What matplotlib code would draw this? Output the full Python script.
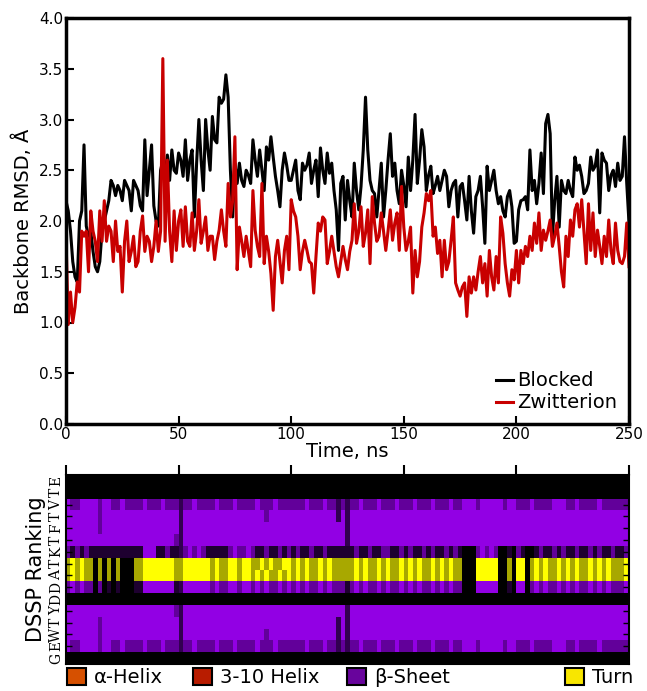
import numpy as np
import matplotlib
matplotlib.use("Agg")
import matplotlib.pyplot as plt
from matplotlib.colors import to_rgb
from matplotlib.patches import Patch

# ---------------------------------------------------------------
# RMSD traces (1 ns sampling)
# ---------------------------------------------------------------
time_ns = np.arange(0, 251)

rmsd_blocked = [
    2.20, 2.10, 1.90, 1.60, 1.45, 1.40, 2.00, 2.10, 2.75, 1.95,
    1.85, 1.90, 1.70, 1.55, 1.50, 1.60, 1.90, 2.00, 2.10, 2.20,
    2.40, 2.35, 2.25, 2.35, 2.30, 2.20, 2.40, 2.35, 2.30, 2.10,
    2.40, 2.35, 2.30, 2.15, 2.10, 2.80, 2.25, 2.50, 2.75, 2.15,
    2.00, 1.95, 2.50, 2.60, 2.45, 2.65, 2.40, 2.70, 2.50, 2.47,
    2.67, 2.60, 2.44, 2.80, 2.40, 2.60, 2.70, 2.04, 2.57, 3.00,
    2.60, 2.30, 3.00, 2.70, 2.50, 3.03, 2.80, 2.77, 3.22, 3.16,
    3.20, 3.44, 3.22, 2.50, 2.04, 2.57, 2.37, 2.57, 2.40, 2.34,
    2.50, 2.45, 2.37, 2.80, 2.60, 2.44, 2.70, 2.50, 2.30, 2.73,
    2.60, 2.83, 2.63, 2.44, 2.30, 2.14, 2.50, 2.67, 2.55, 2.40,
    2.40, 2.50, 2.60, 2.30, 2.21, 2.57, 2.50, 2.55, 2.67, 2.37,
    2.50, 2.60, 2.24, 2.72, 2.50, 2.37, 2.67, 2.47, 2.57, 2.30,
    2.11, 1.71, 2.37, 2.44, 2.01, 2.40, 2.20, 2.04, 2.57, 2.30,
    2.11, 2.34, 2.70, 3.22, 2.70, 2.40, 2.30, 2.27, 2.04, 2.30,
    2.57, 2.04, 2.30, 2.60, 2.86, 2.44, 2.57, 2.30, 2.17, 2.50,
    2.35, 2.14, 2.63, 2.30, 2.60, 3.05, 2.37, 2.60, 2.90, 2.73,
    2.30, 2.45, 2.54, 2.27, 2.35, 2.44, 2.30, 2.40, 2.50, 2.44,
    2.14, 2.30, 2.37, 2.40, 2.04, 2.34, 2.37, 2.20, 2.01, 2.44,
    2.10, 1.88, 2.24, 2.30, 2.44, 2.14, 1.78, 2.54, 2.30, 2.40,
    2.50, 2.30, 2.17, 2.24, 2.10, 2.04, 2.24, 2.30, 2.14, 1.78,
    1.80, 2.11, 2.20, 2.21, 2.24, 2.11, 2.70, 2.30, 2.40, 2.17,
    2.37, 2.67, 2.27, 2.96, 3.05, 2.86, 1.85, 2.20, 2.44, 1.94,
    2.40, 2.30, 2.27, 2.40, 2.30, 2.24, 2.63, 2.50, 2.55, 2.44,
    2.27, 2.30, 2.37, 2.63, 2.50, 2.54, 2.70, 2.08, 2.67, 2.60,
    2.57, 2.30, 2.45, 2.50, 2.34, 2.57, 2.40, 2.44, 2.83, 2.37,
    1.98,
]

rmsd_zwitterion = [
    1.85, 0.98, 1.30, 1.00, 1.15, 1.40, 1.30, 1.90, 1.85, 1.90,
    1.50, 2.10, 1.90, 1.80, 1.60, 2.10, 1.80, 2.20, 1.80, 1.95,
    1.90, 1.60, 2.00, 1.70, 1.75, 1.30, 1.80, 2.00, 1.60, 1.70,
    1.85, 1.55, 1.60, 1.90, 2.05, 1.70, 1.85, 1.80, 1.60, 1.75,
    2.00, 1.70, 1.90, 3.60, 1.80, 2.60, 1.90, 1.60, 2.10, 1.71,
    2.00, 2.11, 1.75, 2.14, 1.80, 1.75, 2.08, 1.71, 1.90, 2.21,
    1.78, 1.90, 2.04, 1.71, 1.85, 1.85, 1.62, 1.80, 1.91, 2.11,
    1.90, 1.75, 2.37, 2.04, 2.20, 2.83, 1.52, 1.94, 1.80, 1.65,
    1.85, 1.70, 1.55, 2.30, 1.91, 1.75, 1.65, 2.37, 1.58, 1.85,
    1.70, 1.48, 1.12, 1.65, 1.81, 1.60, 1.39, 1.71, 1.85, 1.52,
    2.21, 2.10, 2.04, 1.85, 1.52, 1.70, 1.81, 1.71, 1.60, 1.58,
    1.29, 1.65, 1.98, 1.90, 2.04, 2.01, 1.58, 1.70, 1.85, 1.70,
    1.55, 1.45, 1.60, 1.75, 1.62, 1.52, 1.70, 1.81, 2.17, 1.78,
    1.90, 2.14, 1.75, 1.88, 2.11, 1.58, 2.24, 1.98, 1.80, 1.85,
    2.08, 1.90, 1.71, 1.90, 2.11, 1.81, 1.98, 2.08, 1.71, 2.34,
    1.94, 1.71, 1.80, 1.94, 1.29, 1.71, 1.45, 1.60, 1.94, 2.08,
    2.27, 2.20, 2.30, 1.85, 1.94, 1.68, 1.81, 1.45, 1.81, 1.52,
    1.60, 1.81, 2.04, 1.39, 1.32, 1.26, 1.35, 1.39, 1.06, 1.45,
    1.29, 1.45, 1.32, 1.50, 1.65, 1.39, 1.58, 1.26, 1.71, 1.45,
    1.32, 1.65, 1.39, 2.04, 1.88, 1.58, 1.39, 1.26, 1.52, 1.42,
    1.71, 1.39, 1.71, 1.58, 1.75, 1.65, 1.85, 1.71, 1.98, 1.78,
    2.08, 1.71, 1.91, 1.81, 1.90, 2.01, 1.75, 1.85, 1.98, 1.75,
    1.50, 1.35, 1.85, 1.65, 2.01, 1.85, 2.11, 2.17, 1.94, 2.21,
    1.90, 1.58, 2.17, 1.71, 2.08, 1.65, 1.91, 1.75, 1.58, 1.85,
    1.65, 2.01, 1.71, 1.58, 1.98, 1.71, 1.60, 1.58, 1.65, 1.98,
    1.55,
]

# ---------------------------------------------------------------
# DSSP states per residue, one char per 2 ns (bottom -> top)
# C coil, E sheet, e sheet/coil flicker, x dark line, k mostly coil,
# T turn, t turn/coil flicker
# ---------------------------------------------------------------
residues = list("GEWTYDDATKTFTVTE")
frame_ns = 2.0

dssp_rows = [
    # G1
    "CCCCCCCCCCCCCCCCCCCCCCCCC" "CCCCCCCCCCCCCCCCCCCCCCCCC" "CCCCCCCCCCCCCCCCCCCCCCCCC"
    "CCCCCCCCCCCCCCCCCCCCCCCCC" "CCCCCCCCCCCCCCCCCCCCCCCCC",
    # E2
    "EeeEEEEeEEeeEeeeeEeeeEeee" "xeeEeeeeEeeeEeeeeEeeeEeee" "eeeEeeeEeexexeeEeeeEeeeEe"
    "eeEeeeEeeeEeeEEEeEEEEEeEE" "eeeEeeeeEEEeeEeeeeEeeeeee",
    # W3
    "EEEEEEEeEEEEEEEEEEEEEEEEE" "xEEEEEEEEEEEEEEEEEEeEEEEE" "EEEEEEEEEExExEEEEEEEEEEEE"
    "EEEEEEEEEEEEEEEEEEEEEEEEE" "EEEEEEEEEEEEEEEEEEEEEEEEE",
    # T4
    "EEEEEEEeEEEEEEEEEEEEEEEEE" "xEEEEEEEEEEEEEEEEEEEEEEEE" "EEEEEEEEEExExEEEEEEEEEEEE"
    "EEEEEEEEEEEEEEEEEEEEEEEEE" "EEEEEEEEEEEEEEEEEEEEEEEEE",
    # Y5
    "EEEEEEEEEEEEEEEEEEEEEEEEe" "xEEEEEEEEEEEEEEEEEEEEEEEE" "EEEEEEEEEEEExEEEEEEEEEEEE"
    "EEEEEEEEEEEEEEEEEEEEEEEEE" "EEEEEEEEEEEEEEEEEEEEEEEEE",
    # D6
    "CCCCCCCCCCCCCCCCCCCCCCCCC" "CCCCCCCCCCCCCCCCCCCCCCCCC" "CCCCCCCCCCCCCCCCCCCCCCCCC"
    "CCCCCCCCCCCCCCCCCCCCCCCCC" "CCCCCCCCCCCCCCCCCCCCCCCCC",
    # D7
    "eEeEeeCeCkCkCCCkkEEEEEEEk" "xEEEEEEeEeeEEeEEeEeEeeEeE" "eEeEeeEeEeeekeEeEeeEeEeeE"
    "eEeEeeEeEeEeeCCCEEEEECCkC" "EECeEeEeeEeEeEeeEeEeEeeeE",
    # A8
    "tTtTttCtCtCtCCCttTTTTTTTt" "tTTTTTTtTttTTtTTtTtTttTtT" "tTtTttTtTtttttTtTttTtTttT"
    "tTtTttTtTtTttCCCTTTTTCCtC" "TTCtTtTttTtTtTttTtTtTtttT",
    # T9
    "tTtTttCtCtCtCCCttTTTTTTTt" "tTTTTTTtTttTTtTTttTtTttTT" "tTtTttTtTtttttTtTttTtTttT"
    "tTtTttTtTtTttCCCTTTTTCCtC" "TTCtTtTttTtTtTttTtTtTtttT",
    # K10
    "ekekekkkkkkkkkkkkEEEkkekk" "xeEeEekkkkkeEeeEekkekkeke" "kekkekkekkkkkkekkekkeekke"
    "kekkekekkekekCCCeEeEeCCkC" "ekCCkekkekekkekkekekkekke",
    # T11
    "EEEEEEEEEEEEEEEEEEEEEEEEe" "xEEEEEEEEEEEEEEEEEEEEEEEE" "EEEEEEEEEEEExEEEEEEEEEEEE"
    "EEEEEEEEEEEEEEEEEEEEEEEEE" "EEEEEEEEEEEEEEEEEEEEEEEEE",
    # F12
    "EEEEEEEeEEEEEEEEEEEEEEEEE" "xEEEEEEEEEEEEEEEEEEEEEEEE" "EEEEEEEEEEEExEEEEEEEEEEEE"
    "EEEEEEEEEEEEEEEEEEEEEEEEE" "EEEEEEEEEEEEEEEEEEEEEEEEE",
    # T13
    "EEEEEEEeEEEEEEEEEEEEEEEEE" "xEEEEEEEEEEEEEEEEEEeEEEEE" "EEEEEEEEEExExEEEEEEEEEEEE"
    "EEEEEEEEEEEEEEEEEEEEEEEEE" "EEEEEEEEEEEEEEEEEEEEEEEEE",
    # V14
    "EeeEEEEeEEeeEeeeeEeeeEeee" "xeeEeeeeEeeeEeeeeEeeeEeee" "eeeEeeeEeexexeeEeeeEeeeEe"
    "eeEeeeEeeeEeeEEEeEEEEEeEE" "eeeEeeeeEEEeeEeeeeEeeeeee",
    # T15
    "CCCCCCCCCCCCCCCCCCCCCCCCC" "CCCCCCCCCCCCCCCCCCCCCCCCC" "CCCCCCCCCCCCCCCCCCCCCCCCC"
    "CCCCCCCCCCCCCCCCCCCCCCCCC" "CCCCCCCCCCCCCCCCCCCCCCCCC",
    # E16
    "CCCCCCCCCCCCCCCCCCCCCCCCC" "CCCCCCCCCCCCCCCCCCCCCCCCC" "CCCCCCCCCCCCCCCCCCCCCCCCC"
    "CCCCCCCCCCCCCCCCCCCCCCCCC" "CCCCCCCCCCCCCCCCCCCCCCCCC",
]

state_colors = {
    "C": "#000000",
    "E": "#9200e4",
    "e": "#62009a",
    "x": "#320050",
    "k": "#1e0030",
    "T": "#ffff00",
    "t": "#a8a800",
}

legend_labels = ["\u03b1-Helix", "3-10 Helix", "\u03b2-Sheet", "Turn"]
legend_colors = ["#d65000", "#b81c00", "#68049c", "#f8e600"]

# ---------------------------------------------------------------
fig = plt.figure(figsize=(6.47, 6.91), dpi=100)

# ===== RMSD panel =====
ax = fig.add_axes([66 / 647, 1 - 424 / 691, 563 / 647, 406 / 691])
ax.plot(time_ns, rmsd_blocked, color="black", lw=2.2, label="Blocked")
ax.plot(time_ns, rmsd_zwitterion, color="#c80000", lw=2.2, label="Zwitterion")
ax.set_xlim(0, 250)
ax.set_ylim(0, 4)
ax.set_xticks(np.arange(0, 251, 50))
ax.set_yticks(np.arange(0, 4.01, 0.5))
ax.set_yticklabels([f"{v:.1f}" for v in np.arange(0, 4.01, 0.5)])
ax.tick_params(direction="in", length=6, width=1.5, labelsize=11, pad=2)
for sp in ax.spines.values():
    sp.set_linewidth(2.5)
ax.set_xlabel("Time, ns", fontsize=14, labelpad=0)
ax.set_ylabel("Backbone RMSD, \u00c5", fontsize=14, labelpad=4)
ax.legend(loc="lower right", frameon=False, fontsize=14, handlelength=0.9,
          handletextpad=0.2, borderaxespad=0.2, labelspacing=0.15)

# ===== DSSP panel =====
ax2 = fig.add_axes([66 / 647, 1 - 664 / 691, 563 / 647, 189 / 691])
rgb = np.array([[to_rgb(state_colors[c]) for c in row] for row in dssp_rows])
n_frames = rgb.shape[1]
ax2.imshow(rgb, origin="lower", aspect="auto", interpolation="nearest",
           extent=[0, n_frames * frame_ns, 0.5, len(residues) + 0.5])
ax2.set_xlim(0, 250)
ax2.set_ylim(0.5, len(residues) + 0.5)
ax2.xaxis.tick_top()
ax2.set_xticks(np.arange(0, 251, 50))
ax2.set_xticklabels([])
ax2.tick_params(axis="x", direction="out", length=7, width=1.5)
ax2.set_yticks(np.arange(1, len(residues) + 1))
ax2.set_yticklabels(residues, rotation=90, va="center",
                    family="DejaVu Serif", fontsize=10)
ax2.tick_params(axis="y", direction="in", length=4, width=1, pad=2,
                left=True, right=True)
for sp in ax2.spines.values():
    sp.set_linewidth(1.5)
ax2.set_ylabel("DSSP Ranking", fontsize=15, labelpad=2)

# ===== state legend along the bottom =====
square_left_px = [67, 193, 347, 565]
for lab, col, xpx in zip(legend_labels, legend_colors, square_left_px):
    fig.legend(handles=[Patch(facecolor=col, edgecolor="black", linewidth=1.5)],
               labels=[lab], loc="upper left",
               bbox_to_anchor=(xpx / 647, 1 - 668 / 691),
               frameon=False, fontsize=14, handlelength=1.0, handleheight=1.0,
               handletextpad=0.4, borderpad=0, borderaxespad=0)

fig.savefig("out.png", dpi=100)
